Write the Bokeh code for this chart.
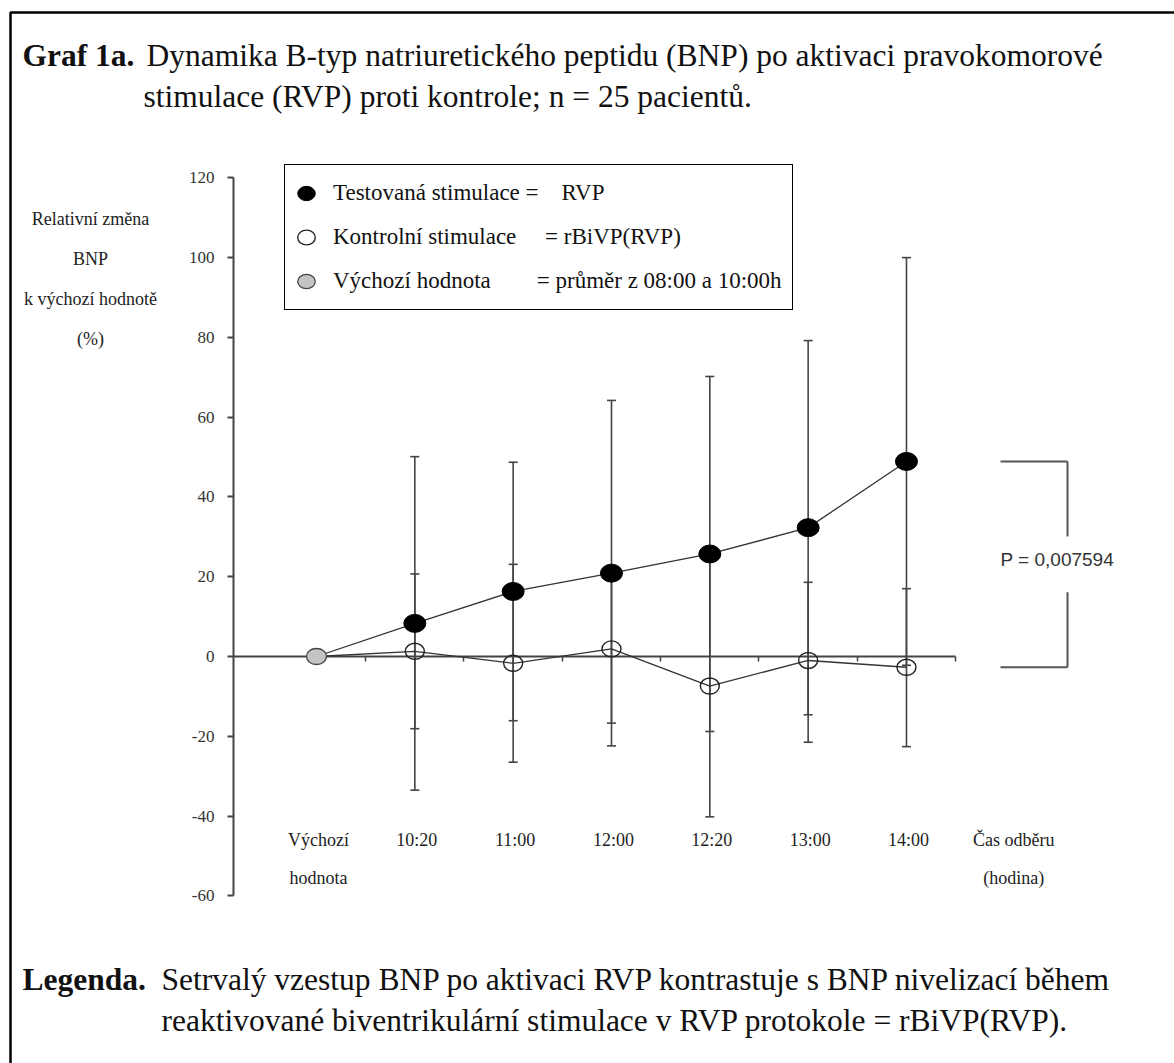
from bokeh.plotting import figure
from bokeh.models import (Range1d, LinearAxis, FixedTicker, ColumnDataSource, Whisker,
                          TeeHead, Legend, LegendItem, Label, BoxAnnotation)
from bokeh.embed import file_html
from bokeh.resources import INLINE
from bokeh.core.properties import value

# ---------------- data ----------------
x_labels = ["Výchozí\nhodnota", "10:20", "11:00", "12:00", "12:20", "13:00", "14:00"]
x_title = "Čas odběru\n(hodina)"
baseline_value = 0.0
rvp_mean = [0.0, 8.3, 16.3, 20.9, 25.7, 32.3, 48.9]
rvp_upper = [50.1, 48.7, 64.2, 70.2, 79.2, 100.0]
rvp_lower = [-33.5, -16.1, -22.4, -18.8, -14.6, -2.2]
ctl_mean = [0.0, 1.3, -1.7, 1.9, -7.4, -1.0, -2.7]
ctl_upper = [20.7, 23.1, 20.5, 25.4, 18.6, 17.0]
ctl_lower = [-18.1, -26.5, -16.7, -40.2, -21.5, -22.6]
y_ticks = [-60, -40, -20, 0, 20, 40, 60, 80, 100, 120]
y_tick_labels = ["-60", "-40", "-20", "0", "20", "40", "60", "80", "100", "120"]
p_value_text = "P = 0,007594"

title_bold = "Graf 1a."
title_line1 = "Dynamika B-typ natriuretického peptidu (BNP) po aktivaci pravokomorové"
title_line2 = "stimulace (RVP) proti kontrole; n = 25 pacientů."
note_bold = "Legenda."
note_line1 = "Setrvalý vzestup BNP po aktivaci RVP kontrastuje s BNP nivelizací během"
note_line2 = "reaktivované biventrikulární stimulace v RVP protokole = rBiVP(RVP)."
y_title = "Relativní změna\nBNP\nk výchozí hodnotě\n(%)"
NB = "\u00a0"
legend_labels = [
    "Testovaná stimulace" + NB + "=" + NB * 4 + "RVP",
    "Kontrolní stimulace" + NB * 5 + "=" + NB + "rBiVP(RVP)",
    "Výchozí hodnota" + NB * 8 + "= průměr z 08:00 a 10:00h",
]

# ---------------- layout ----------------
W, H = 1174, 1063
X0_PX, DX_PX = 316.0, 98.33      # pixel of first category, pixels per category
Y0_PX, DY_PX = 656.0, 3.9889     # pixel of value 0, pixels per unit


def X(px):
    return (px - X0_PX) / DX_PX


def Y(py):
    return (Y0_PX - py) / DY_PX


SERIF = value("Liberation Serif")
n = len(x_labels)
idx = list(range(n))

p = figure(width=W, height=H, x_range=Range1d(X(0), X(W)), y_range=Range1d(Y(H), Y(0)),
           x_axis_type=None, y_axis_type=None, min_border=0, toolbar_location=None,
           output_backend="svg", outline_line_color=None,
           background_fill_color="white", border_fill_color="white")

# y axis
yaxis = LinearAxis(fixed_location=X(233), bounds=(y_ticks[0], y_ticks[-1]),
                   ticker=FixedTicker(ticks=y_ticks, minor_ticks=[]),
                   major_label_overrides={t: s for t, s in zip(y_ticks, y_tick_labels)})
yaxis.axis_line_color = "#444444"
yaxis.axis_line_width = 2
yaxis.major_tick_line_color = "#444444"
yaxis.major_tick_line_width = 2
yaxis.major_tick_in = 0
yaxis.major_tick_out = 6
yaxis.minor_tick_line_color = None
yaxis.major_label_standoff = 13
yaxis.major_label_text_font = "Liberation Serif"
yaxis.major_label_text_font_size = "17px"
yaxis.major_label_text_color = "#333333"
p.add_layout(yaxis, "left")

# x axis (line at value 0, ticks between categories)
xticks = [i + 0.5 for i in idx]
xaxis = LinearAxis(fixed_location=0, bounds=(X(233), xticks[-1]),
                   ticker=FixedTicker(ticks=xticks, minor_ticks=[]),
                   major_label_overrides={t: "" for t in xticks})
xaxis.axis_line_color = "#444444"
xaxis.axis_line_width = 2
xaxis.major_tick_line_color = "#444444"
xaxis.major_tick_line_width = 1.5
xaxis.major_tick_in = 0
xaxis.major_tick_out = 5
xaxis.minor_tick_line_color = None
xaxis.level = "underlay"
p.add_layout(xaxis, "below")

# error bars
for up, lo in ((rvp_upper, rvp_lower), (ctl_upper, ctl_lower)):
    src = ColumnDataSource(dict(x=idx[1:], upper=up, lower=lo))
    p.add_layout(Whisker(source=src, base="x", upper="upper", lower="lower",
                         line_color="#444444", line_width=1.6,
                         upper_head=TeeHead(size=9, line_color="#444444", line_width=1.6),
                         lower_head=TeeHead(size=9, line_color="#444444", line_width=1.6)))

# series lines
p.line(idx, rvp_mean, line_color="#333333", line_width=1.3)
p.line(idx, ctl_mean, line_color="#333333", line_width=1.3)

# markers
r_ctl = p.ellipse(x=idx[1:], y=ctl_mean[1:], width=19, height=16,
                  width_units="screen", height_units="screen",
                  fill_color=None, line_color="#222222", line_width=1.4)
r_rvp = p.ellipse(x=idx[1:], y=rvp_mean[1:], width=22, height=18,
                  width_units="screen", height_units="screen",
                  fill_color="black", line_color="black")
r_base = p.ellipse(x=[0], y=[baseline_value], width=20, height=16,
                   width_units="screen", height_units="screen",
                   fill_color="#c4c4c4", line_color="#444444", line_width=1.3)

# category labels and x title
p.text(x=idx, y=[Y(829)] * n, text=x_labels, text_align="center", text_baseline="top",
       text_font=SERIF, text_font_size="18px", text_color="#222222",
       text_line_height=1.9, x_offset=2)
p.text(x=[n], y=[Y(829)], text=[x_title], text_align="center", text_baseline="top",
       text_font=SERIF, text_font_size="18px", text_color="#222222",
       text_line_height=1.9, x_offset=9)

# y title
p.add_layout(Label(x=X(90), y=Y(278), text=y_title, text_align="center",
                   text_baseline="middle", text_font="Liberation Serif",
                   text_font_size="18px", text_color="#222222", text_line_height=2.0))

# bracket with p-value
top, bot = rvp_mean[-1], ctl_mean[-1]
mid = (top + bot) / 2
gap = 7.0
bx0, bx1 = X(1000), X(1067)
p.segment(x0=[bx0, bx1, bx1, bx0], y0=[top, top, mid - gap, bot],
          x1=[bx1, bx1, bx1, bx1], y1=[top, mid + gap, bot, bot],
          line_color="#555555", line_width=2)
p.add_layout(Label(x=bx0, y=mid, y_offset=5, text=p_value_text, text_baseline="middle",
                   text_font="Liberation Sans", text_font_size="19px", text_color="#333333"))

# legend
legend = Legend(items=[LegendItem(label=legend_labels[0], renderers=[r_rvp]),
                       LegendItem(label=legend_labels[1], renderers=[r_ctl]),
                       LegendItem(label=legend_labels[2], renderers=[r_base])],
                location=(284, H - 310), orientation="vertical")
legend.border_line_color = "black"
legend.border_line_width = 1.5
legend.border_line_alpha = 1
legend.background_fill_color = "white"
legend.background_fill_alpha = 1
legend.label_text_font = "Liberation Serif"
legend.label_text_font_size = "23px"
legend.label_text_color = "#111111"
legend.glyph_width = 22
legend.glyph_height = 36
legend.label_height = 36
legend.label_standoff = 16
legend.padding = 10
legend.spacing = 8
legend.margin = 0
p.add_layout(legend)

# title and note
for txt, px, py, bold in ((title_bold, 22, 55, True), (title_line1, 146, 55, False),
                          (title_line2, 143, 96, False), (note_bold, 22, 979, True),
                          (note_line1, 161, 979, False), (note_line2, 161, 1020, False)):
    p.add_layout(Label(x=X(px), y=Y(py), text=txt, text_baseline="middle",
                       text_font="Liberation Serif", text_font_size="31.5px",
                       text_font_style="bold" if bold else "normal", text_color="#111111"))

# frame border (left and top edges)
p.add_layout(BoxAnnotation(left=X(10), top=Y(12), right=X(W + 20), bottom=Y(H + 20),
                           fill_alpha=0, line_color="black", line_alpha=1, line_width=2.5,
                           level="overlay"))

open("out.html", "w").write(file_html(p, INLINE))
